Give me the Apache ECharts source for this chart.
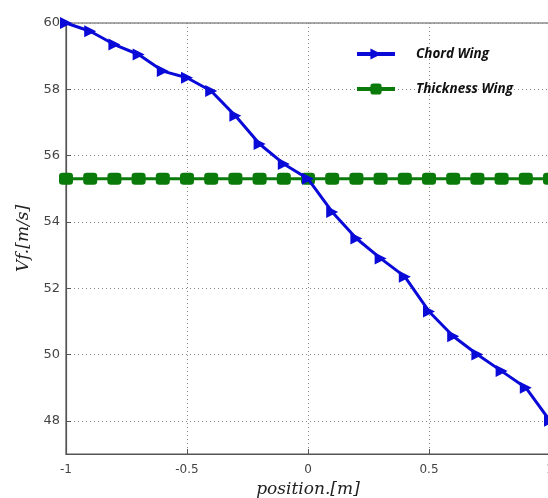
<!DOCTYPE html>
<html><head><meta charset="utf-8">
<script src="https://cdn.jsdelivr.net/npm/echarts@6/dist/echarts.min.js"></script>
<style>html,body{margin:0;padding:0;background:#fff}#c{width:548px;height:498px}</style>
</head><body><div id="c"></div>
<script>
var positions = [-1,-0.9,-0.8,-0.7,-0.6,-0.5,-0.4,-0.3,-0.2,-0.1,0,0.1,0.2,0.3,0.4,0.5,0.6,0.7,0.8,0.9,1];
var chordWing = [60,59.75,59.35,59.05,58.55,58.35,57.95,57.2,56.35,55.75,55.3,54.3,53.5,52.9,52.35,51.3,50.55,50.0,49.5,49.0,48.0];
var thicknessWing = [55.3,55.3,55.3,55.3,55.3,55.3,55.3,55.3,55.3,55.3,55.3,55.3,55.3,55.3,55.3,55.3,55.3,55.3,55.3,55.3,55.3];
var yTicks = [48,50,52,54,56,58,60];
var xTicks = [-1,-0.5,0,0.5,1];

function pairs(xs, ys){ return xs.map(function(x,i){return [x, ys[i]];}); }

var chart = echarts.init(document.getElementById('c'));
chart.setOption({
  animation:false,
  grid:{left:66,right:-2,top:23,bottom:44,show:true,borderColor:'#555',borderWidth:1.2,backgroundColor:'transparent',
        outerBoundsMode:'none',containLabel:false},
  legend:{
    orient:'vertical', left:350, top:42, itemGap:21, itemWidth:38, itemHeight:14,
    lineStyle:{width:4},
    textStyle:{fontFamily:'Open Sans, sans-serif',fontStyle:'italic',fontWeight:'bold',fontSize:13.5,color:'#111',padding:[0,0,0,16]},
    data:['Chord Wing','Thickness Wing']
  },
  xAxis:{
    type:'value', min:-1, max:1, interval:0.5,
    name:'position.[m]', nameLocation:'middle', nameGap:23,
    nameTextStyle:{fontFamily:'DejaVu Serif, serif',fontStyle:'italic',fontSize:17,color:'#222'},
    axisLine:{show:true,onZero:false,lineStyle:{color:'#555',width:1.2}},
    axisTick:{show:true,inside:true,length:5,lineStyle:{color:'#555'}},
    axisLabel:{color:'#444',fontSize:12,fontFamily:'DejaVu Sans, sans-serif',margin:10,
      customValues:xTicks},
    splitLine:{show:true,lineStyle:{color:'#888',type:[1,3],width:1}}
  },
  yAxis:{
    type:'value', min:47, max:60,
    name:'Vf.[m/s]', nameLocation:'middle', nameGap:30,
    nameTextStyle:{fontFamily:'DejaVu Serif, serif',fontStyle:'italic',fontSize:17,color:'#222'},
    axisLine:{show:true,onZero:false,lineStyle:{color:'#555',width:1.2}},
    axisTick:{show:true,inside:true,length:5,lineStyle:{color:'#555'},customValues:yTicks},
    axisLabel:{color:'#444',fontSize:13,fontFamily:'DejaVu Sans, sans-serif',margin:6,customValues:yTicks},
    splitLine:{show:true,lineStyle:{color:'#888',type:[1,3],width:1}}
  },
  series:[
    {name:'Chord Wing',type:'line',data:pairs(positions,chordWing),
     symbol:'triangle',symbolSize:12,symbolRotate:-90,
     lineStyle:{color:'#0a0ad8',width:3},itemStyle:{color:'#0a0ad8'},z:3},
    {name:'Thickness Wing',type:'line',data:pairs(positions,thicknessWing),
     symbol:'roundRect',symbolSize:[14,12],
     lineStyle:{color:'#0a7a0a',width:3},itemStyle:{color:'#0a7a0a'},z:2}
  ]
});
</script></body></html>
